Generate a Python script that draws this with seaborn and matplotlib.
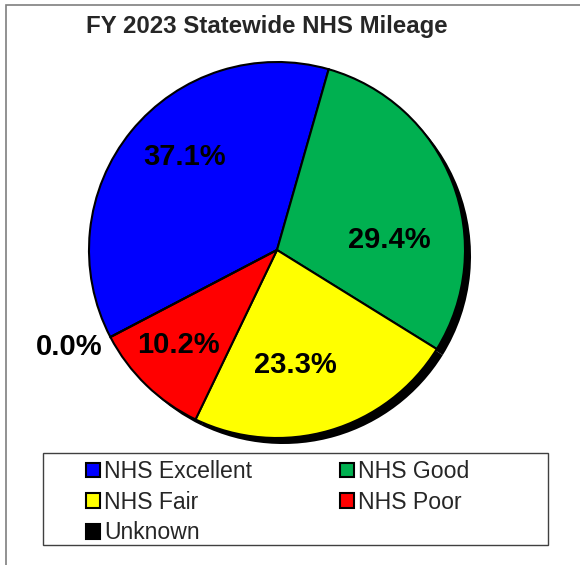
import numpy as np
import matplotlib
matplotlib.use("Agg")
import matplotlib.pyplot as plt
import seaborn as sns
from matplotlib.patches import Rectangle, Patch

categories = ["NHS Excellent", "NHS Good", "NHS Fair", "NHS Poor", "Unknown"]
values = [37.1, 29.4, 23.3, 10.2, 0.0]
colors = ["#0000FF", "#00B050", "#FFFF00", "#FF0000", "#000000"]
title = "FY 2023 Statewide NHS Mileage"

# label placement tweaks (radial factor, angular offset in degrees)
label_r = [0.70, 0.60, 0.62, 0.73, 1.22]
label_dang = [-6, -16, -7, -2, -2.6]

sns.set_theme(style="white")
plt.rcParams["font.family"] = ["Liberation Sans", "DejaVu Sans"]

fig = plt.figure(figsize=(5.8, 5.65), dpi=100)
ax = fig.add_axes([89/580, 127/565, 376/580, 376/565])

start = 90 - 242.4

# shadow
ax.pie(values, colors=["black"] * len(values), startangle=start, counterclock=False,
       radius=1.0, center=(0.032, -0.032), wedgeprops=dict(linewidth=0))

wedges, _ = ax.pie(values, colors=colors, startangle=start, counterclock=False,
                   radius=1.0, wedgeprops=dict(edgecolor="black", linewidth=1.5))
ax.set_xlim(-1, 1)
ax.set_ylim(-1, 1)
ax.set_aspect("equal")
ax.axis("off")

for w, v, r, da in zip(wedges, values, label_r, label_dang):
    ang = np.deg2rad((w.theta1 + w.theta2) / 2 + da)
    ax.text(r * np.cos(ang), r * np.sin(ang), f"{v:.1f}%", ha="center", va="center",
            fontsize=21, fontweight="bold", color="black", clip_on=False)

fig.text(266.5/580, 1 - 27/565, title, ha="center", va="center",
         fontsize=17.3, fontweight="bold")

# figure frame
fig.patches.append(Rectangle((6/580, -0.1), 1.2, 1.1 - 5/565, transform=fig.transFigure,
                             fill=False, edgecolor="#7f7f7f", linewidth=1.2))
# legend frame
fig.patches.append(Rectangle((43/580, 1 - 545/565), 505/580, 92/565, transform=fig.transFigure,
                             fill=False, edgecolor="#404040", linewidth=1.0))

handles = [Patch(facecolor=c, edgecolor="black", linewidth=1.5) for c in colors]
order = [0, 2, 4, 1, 3]
leg = fig.legend([handles[i] for i in order], [categories[i] for i in order],
                 ncol=2, loc="upper left", bbox_to_anchor=(70/580, 1 - 444/565),
                 frameon=False, fontsize=16.6, handlelength=0.62, handleheight=0.62,
                 handletextpad=0.15, columnspacing=3.82, labelspacing=0.33,
                 borderpad=0.2)

fig.savefig("out.png", dpi=100)
